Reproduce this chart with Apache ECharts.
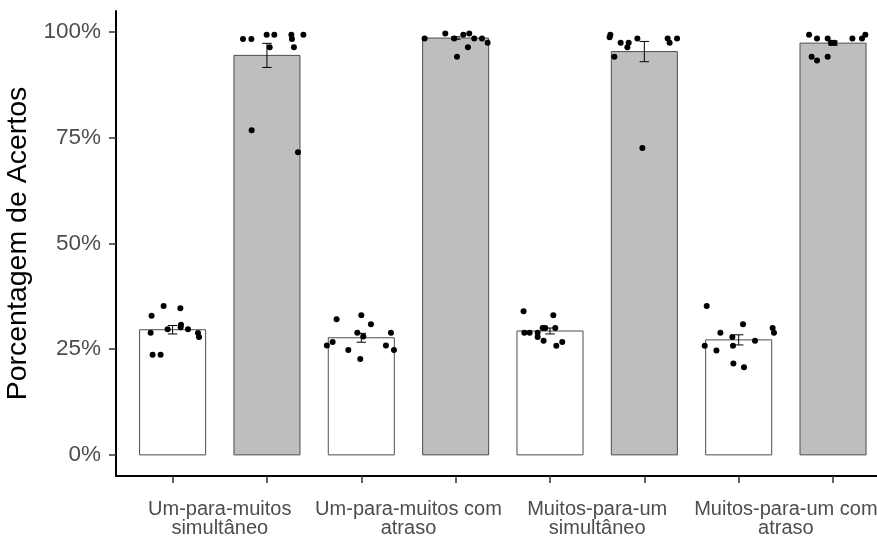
<!DOCTYPE html>
<html>
<head>
<meta charset="utf-8">
<script src="https://cdn.jsdelivr.net/npm/echarts@6/dist/echarts.min.js"></script>
<style>
  html, body { margin: 0; padding: 0; background: #ffffff; }
  #chart { width: 877px; height: 536px; }
</style>
</head>
<body>
<div id="chart"></div>
<script>
// Condition labels (each covers a pair of bars)
const groupLabels = [
  'Um-para-muitos\nsimultâneo',
  'Um-para-muitos com\natraso',
  'Muitos-para-um\nsimultâneo',
  'Muitos-para-um com\natraso'
];

// Bar positions on the x scale (1..8) and mean accuracy (%)
const barPositions = [1, 2, 3, 4, 5, 6, 7, 8];
const barMeans = [29.6, 94.5, 27.7, 98.6, 29.3, 95.4, 27.2, 97.4];
// Standard error of each mean (%)
const barErrors = [1.0, 2.85, 1.05, 0.3, 0.7, 2.4, 1.2, 0.5];

// Y tick labels (%)
const yTicks = [0, 25, 50, 75, 100];

// Individual participants: [horizontal jitter, accuracy %]
const pts1 = [[-0.223, 32.9], [-0.095, 35.2], [0.082, 34.7], [0.089, 30.8], [0.085, 30.2], [-0.053, 29.7],
              [-0.233, 28.9], [0.163, 29.7], [0.269, 28.8], [0.280, 27.9], [-0.212, 23.7], [-0.127, 23.7]];
const pts2 = [[-0.254, 98.4], [-0.165, 98.4], [-0.003, 99.4], [0.078, 99.4], [0.259, 99.4], [0.265, 98.4],
              [0.386, 99.4], [0.029, 96.4], [0.286, 96.4], [-0.162, 76.8], [0.329, 71.6]];
const pts3 = [[-0.262, 32.1], [0.0, 33.0], [0.102, 30.9], [-0.042, 28.9], [0.021, 28.0], [0.314, 28.9],
              [-0.304, 26.7], [-0.365, 25.9], [-0.138, 24.8], [0.261, 25.9], [0.346, 24.8], [-0.011, 22.7]];
const pts4 = [[-0.329, 98.5], [-0.110, 99.7], [0.081, 99.4], [0.144, 99.7], [0.197, 98.5], [0.279, 98.5],
              [0.339, 97.5], [0.130, 96.4], [0.014, 94.2], [-0.015, 98.5]];
const pts5 = [[-0.280, 34.0], [0.035, 33.0], [-0.272, 28.9], [-0.216, 28.9], [-0.131, 28.9], [-0.078, 30.0],
              [-0.050, 30.0], [0.056, 30.0], [-0.131, 27.9], [-0.068, 27.0], [0.067, 25.8], [0.130, 26.7]];
const pts6 = [[-0.360, 99.4], [-0.368, 98.8], [-0.251, 97.5], [-0.166, 97.5], [-0.180, 96.4], [-0.074, 98.5],
              [-0.318, 94.2], [0.247, 98.5], [0.268, 97.5], [0.347, 98.5], [-0.021, 72.6]];
const pts7 = [[-0.339, 35.2], [0.046, 30.9], [0.360, 30.0], [0.374, 28.9], [-0.194, 28.9], [-0.067, 27.9],
              [0.173, 27.0], [-0.360, 25.8], [-0.236, 24.7], [-0.060, 25.8], [-0.056, 21.6], [0.056, 20.7]];
const pts8 = [[-0.254, 99.4], [-0.170, 98.5], [-0.057, 98.5], [-0.021, 97.5], [0.014, 97.5], [0.205, 98.5],
              [0.307, 98.5], [0.342, 99.4], [-0.227, 94.2], [-0.170, 93.3], [-0.057, 94.2]];
const pointSets = [pts1, pts2, pts3, pts4, pts5, pts6, pts7, pts8];

// Build series data
const barData = barPositions.map((x, i) => [x, barMeans[i]]);
const errData = barPositions.map((x, i) => [x, barMeans[i] - barErrors[i], barMeans[i] + barErrors[i]]);
const scatterData = [];
pointSets.forEach((set, i) => {
  set.forEach(p => scatterData.push([barPositions[i] + p[0], p[1]]));
});
const labelPositions = groupLabels.map((_, i) => barPositions[2 * i] + 0.5);

const BAR_HALF = 0.35;
const CAP_HALF = 0.05;
const FONT = "'Liberation Sans', Arial, sans-serif";

const chart = echarts.init(document.getElementById('chart'), null, { renderer: 'canvas' });

chart.setOption({
  backgroundColor: '#ffffff',
  animation: false,
  grid: { left: 116, right: 0, top: 11, bottom: 60, containLabel: false, outerBoundsMode: 'none' },
  xAxis: {
    type: 'value',
    // the panel runs on past the right edge of the page
    min: 0.4,
    max: 8.466,
    splitLine: { show: false },
    axisLine: { show: true, onZero: false, lineStyle: { color: '#000000', width: 2 } },
    axisTick: {
      show: true,
      customValues: barPositions,
      length: 7,
      lineStyle: { color: '#333333', width: 1.5 }
    },
    axisLabel: {
      customValues: labelPositions,
      formatter: v => {
        const idx = labelPositions.findIndex(p => Math.abs(p - v) < 1e-6);
        return idx >= 0 ? groupLabels[idx] : '';
      },
      color: '#4D4D4D',
      fontSize: 20,
      fontFamily: FONT,
      lineHeight: 19,
      margin: 24,
      hideOverlap: false
    }
  },
  yAxis: {
    type: 'value',
    min: -5,
    max: 105,
    name: 'Porcentagem de Acertos',
    nameLocation: 'middle',
    nameGap: 63,
    nameTextStyle: { color: '#000000', fontSize: 28.5, fontFamily: FONT },
    splitLine: { show: false },
    axisLine: { show: true, onZero: false, lineStyle: { color: '#000000', width: 2 } },
    axisTick: {
      show: true,
      customValues: yTicks,
      length: 7,
      lineStyle: { color: '#333333', width: 1.5 }
    },
    axisLabel: {
      customValues: yTicks,
      formatter: '{value}%',
      color: '#4D4D4D',
      fontSize: 22.5,
      fontFamily: FONT,
      margin: 15
    }
  },
  series: [
    {
      // Mean bars: white for simultaneous-probe trials, grey for the rest
      type: 'custom',
      data: barData,
      z: 1,
      renderItem: (params, api) => {
        const x = api.value(0);
        const y = api.value(1);
        const p0 = api.coord([x - BAR_HALF, y]);
        const p1 = api.coord([x + BAR_HALF, 0]);
        const filled = params.dataIndex % 2 === 1;
        return {
          type: 'rect',
          shape: { x: p0[0], y: p0[1], width: p1[0] - p0[0], height: p1[1] - p0[1] },
          style: {
            fill: filled ? '#BEBEBE' : '#FFFFFF',
            stroke: filled ? '#4D4D4D' : '#4D4D4D',
            lineWidth: 1
          }
        };
      }
    },
    {
      // Individual participant scores
      type: 'scatter',
      data: scatterData,
      symbol: 'circle',
      symbolSize: 6,
      itemStyle: { color: '#000000', opacity: 1 },
      z: 3
    },
    {
      // Standard error bars
      type: 'custom',
      data: errData,
      z: 4,
      renderItem: (params, api) => {
        const x = api.value(0);
        const lo = api.value(1);
        const hi = api.value(2);
        const top = api.coord([x, hi]);
        const bot = api.coord([x, lo]);
        const tl = api.coord([x - CAP_HALF, hi]);
        const tr = api.coord([x + CAP_HALF, hi]);
        const bl = api.coord([x - CAP_HALF, lo]);
        const br = api.coord([x + CAP_HALF, lo]);
        const style = { stroke: '#000000', lineWidth: 1 };
        return {
          type: 'group',
          children: [
            { type: 'line', shape: { x1: top[0], y1: top[1], x2: bot[0], y2: bot[1] }, style },
            { type: 'line', shape: { x1: tl[0], y1: tl[1], x2: tr[0], y2: tr[1] }, style },
            { type: 'line', shape: { x1: bl[0], y1: bl[1], x2: br[0], y2: br[1] }, style }
          ]
        };
      }
    }
  ]
});
</script>
</body>
</html>
